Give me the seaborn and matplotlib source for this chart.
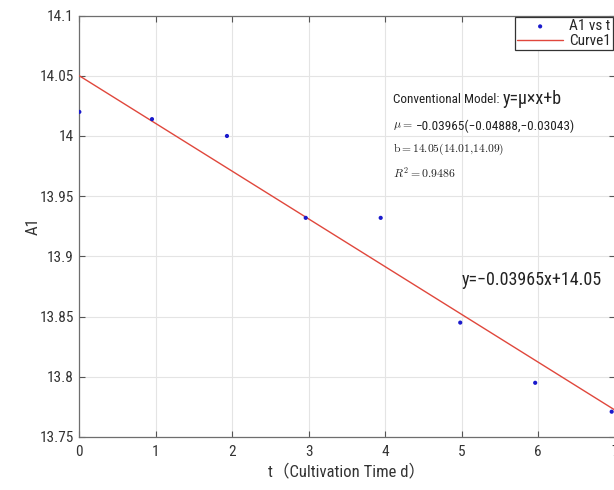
import numpy as np
import pandas as pd
import matplotlib
matplotlib.use("Agg")
import matplotlib.pyplot as plt
import seaborn as sns

# Measured absorbance A1 over cultivation time
t_days = [0.0, 0.95, 1.93, 2.96, 3.94, 4.98, 5.96, 6.96]
a1_values = [14.020, 14.014, 14.000, 13.932, 13.932, 13.845, 13.795, 13.771]

# Linear fit parameters
slope = -0.03965
intercept = 14.05
fit_range = [0.0, 7.0]

x_ticks = [0, 1, 2, 3, 4, 5, 6, 7]
y_ticks = [13.75, 13.8, 13.85, 13.9, 13.95, 14.0, 14.05, 14.1]
y_tick_labels = ["13.75", "13.8", "13.85", "13.9", "13.95", "14", "14.05", "14.1"]

sns.set_theme(style="whitegrid")
SANS = ["Roboto Condensed", "Noto Sans CJK SC", "DejaVu Sans"]
plt.rcParams["font.family"] = SANS
plt.rcParams["mathtext.fontset"] = "cm"
plt.rcParams["axes.unicode_minus"] = True

fig = plt.figure(figsize=(6.14, 4.90), dpi=100)
ax = fig.add_axes([0.1292, 0.1082, 0.872, 0.860])

points = pd.DataFrame({"t": t_days, "A1": a1_values})
fit_x = np.array(fit_range)
fit = pd.DataFrame({"t": fit_x, "A1": slope * fit_x + intercept})

sns.lineplot(data=fit, x="t", y="A1", ax=ax, color="#e0473c", linewidth=1.0,
             label="Curve1", zorder=3)
sns.scatterplot(data=points, x="t", y="A1", ax=ax, color="#1a1acc", s=9,
                edgecolor="none", marker="o", label="A1 vs t", zorder=4)

ax.set_xlim(0, 7)
ax.set_ylim(13.75, 14.1)
ax.set_xticks(x_ticks)
ax.set_yticks(y_ticks)
ax.set_yticklabels(y_tick_labels)

ax.grid(True, color="#e4e4e4", linewidth=0.8)
for side in ["left", "right", "top", "bottom"]:
    ax.spines[side].set_visible(True)
    ax.spines[side].set_color("#6e6e6e")
    ax.spines[side].set_linewidth(0.9)
ax.tick_params(axis="both", direction="in", length=4, width=0.8, color="#555555",
               labelsize=11, labelcolor="#333333", top=True, right=True,
               left=True, bottom=True, pad=4)
ax.tick_params(axis="x", pad=6)

ax.set_xlabel("t（Cultivation Time d）", fontsize=12, color="#333333", labelpad=3)
ax.set_ylabel("A1", fontsize=12, color="#333333", labelpad=-1)

# Legend order: data first, then fit curve
handles, labels = ax.get_legend_handles_labels()
order = [labels.index("A1 vs t"), labels.index("Curve1")]
leg = ax.legend([handles[i] for i in order], [labels[i] for i in order],
                loc="upper right", bbox_to_anchor=(1.0, 1.0), fontsize=11,
                frameon=True, fancybox=False, framealpha=1, borderpad=0.15,
                labelspacing=0.05, handlelength=3.0, handletextpad=0.4,
                borderaxespad=0.1)
leg.get_frame().set_edgecolor("#333333")
leg.get_frame().set_linewidth(0.9)

# Fit annotations
txt_color = "#222222"
t_model = ax.text(0.586, 0.800, "Conventional Model:", transform=ax.transAxes,
                  fontsize=9.5, color=txt_color, va="center", ha="left")
ax.annotate("y=μ×x+b", xy=(1.0, 0.5), xycoords=t_model, xytext=(2.5, 0.5),
            textcoords="offset points", fontsize=13, color=txt_color,
            va="center", ha="left")
t_mu = ax.text(0.586, 0.738, r"$\mu=$", transform=ax.transAxes,
               fontsize=8.5, color=txt_color, va="center", ha="left")
ax.annotate("−0.03965(−0.04888,−0.03043)", xy=(1.0, 0.5), xycoords=t_mu,
            xytext=(2, 0), textcoords="offset points", fontsize=9.5,
            color=txt_color, va="center", ha="left")
ax.text(0.586, 0.682, r"$\mathrm{b{=}14.05(14.01{,}14.09)}$", transform=ax.transAxes,
        fontsize=8.3, color=txt_color, va="center", ha="left")
ax.text(0.586, 0.627, r"$R^2=0.9486$", transform=ax.transAxes,
        fontsize=8.5, color=txt_color, va="center", ha="left")
ax.text(0.715, 0.372, "y=−0.03965x+14.05", transform=ax.transAxes,
        fontsize=13, color=txt_color, va="center", ha="left")

fig.savefig("out.png", dpi=100, facecolor="white")
